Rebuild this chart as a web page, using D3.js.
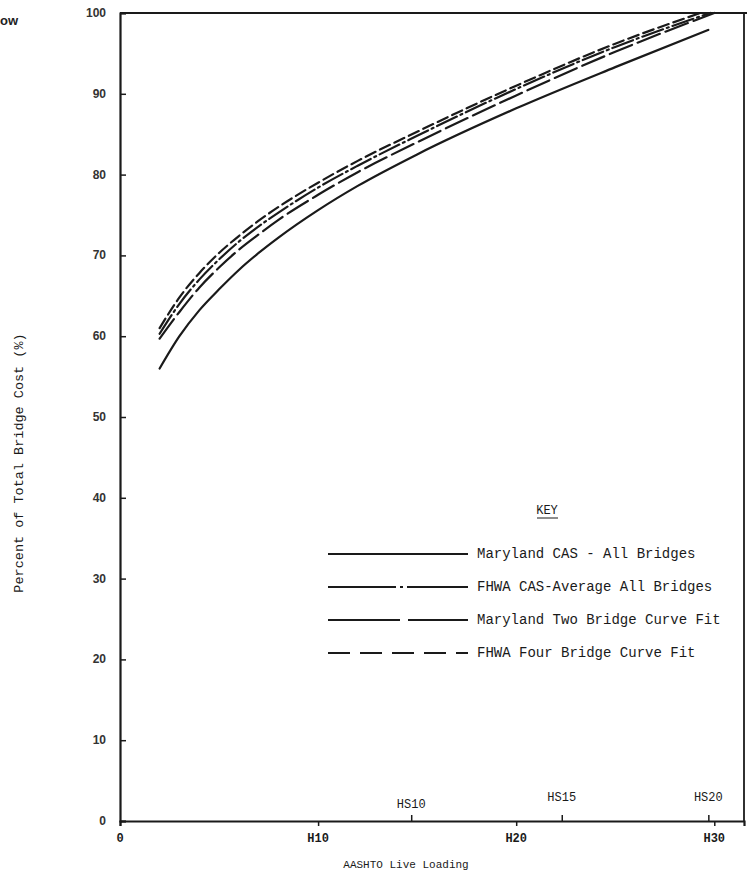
<!DOCTYPE html>
<html><head><meta charset="utf-8">
<script src="https://cdn.jsdelivr.net/npm/d3@7"></script>
<style>body{margin:0;background:#fff}svg{display:block}</style>
</head><body>
<svg id="c" width="747" height="873"></svg>
<script>
// ---- data ----
const xCAS   = [2, 3, 4, 5, 6, 7, 8, 10, 12, 15, 20, 25, 29.7];
const yMdCAS = [56, 60, 63.2, 65.8, 68.2, 70.3, 72.2, 75.6, 78.6, 82.5, 88.2, 93.3, 97.9];
const xFhwaCAS = [2, 3, 4, 5, 6, 7, 8, 10, 12, 15, 20, 25, 29.8];
const yFhwaCAS = [60.3, 64, 67, 69.5, 71.7, 73.6, 75.3, 78.4, 81.1, 84.8, 90.6, 95.8, 100];
const xMdTwo = [2, 3, 4, 5, 6, 7, 8, 10, 12, 15, 20, 25, 30];
const yMdTwo = [59.7, 63, 66, 68.5, 70.7, 72.6, 74.4, 77.5, 80.3, 84, 89.8, 95.2, 100];
const xFhwaFour = [2, 3, 4, 5, 6, 7, 8, 10, 12, 15, 20, 25, 29.3];
const yFhwaFour = [61, 64.8, 67.8, 70.3, 72.4, 74.3, 76, 79, 81.7, 85.3, 91, 96.2, 100];

const seriesNames = ["Maryland CAS - All Bridges", "FHWA CAS-Average All Bridges",
                     "Maryland Two Bridge Curve Fit", "FHWA Four Bridge Curve Fit"];
const yTicks = [0, 10, 20, 30, 40, 50, 60, 70, 80, 90, 100];
const xTickVals = [0, 10, 20, 30];
const xTickLabels = ["0", "H10", "H20", "H30"];
const hsTickVals = [14.7, 22.3, 29.7];
const hsTickLabels = ["HS10", "HS15", "HS20"];

// ---- layout ----
const svg = d3.select("#c");
const x = d3.scaleLinear().domain([0, 31.5]).range([120, 744]);
const y = d3.scaleLinear().domain([0, 100]).range([821, 13]);
const ink = "#1a1a1a";
const mono = "'Liberation Mono','DejaVu Sans Mono',monospace";

const series = [
  {xs: xCAS, ys: yMdCAS, dash: null, legDash: null},
  {xs: xFhwaCAS, ys: yFhwaCAS, dash: "22,4,2,4", legDash: "68,4,3,4"},
  {xs: xMdTwo, ys: yMdTwo, dash: "24,6", legDash: "72,8"},
  {xs: xFhwaFour, ys: yFhwaFour, dash: "11,5", legDash: "22,10"}
];

// frame
svg.append("path").attr("d", `M${x(0)},${y(100)}H747`).attr("stroke", ink).attr("stroke-width", 2.2).attr("fill", "none");
svg.append("path").attr("d", `M${x.range()[1]},${y(100)}V${y(0)}`).attr("stroke", ink).attr("stroke-width", 1.8).attr("fill", "none");

// y axis
const yAxis = d3.axisRight(y).tickValues(yTicks).tickSize(6).tickFormat("");
const gy = svg.append("g").attr("transform", `translate(${x(0)},0)`).call(yAxis);
gy.select(".domain").attr("stroke", ink).attr("stroke-width", 2.2);
gy.selectAll(".tick line").attr("stroke", ink).attr("stroke-width", 1.5);
svg.append("g").selectAll("text").data(yTicks).join("text")
  .attr("x", 106).attr("y", d => y(d) + 4)
  .attr("text-anchor", "end")
  .attr("font-family", "'Liberation Sans',Arial,sans-serif").attr("font-weight", "bold")
  .attr("font-size", 12).attr("fill", "#333")
  .text(d => d);

// x axis
const xAxis = d3.axisBottom(x).tickValues(xTickVals).tickSize(5).tickFormat("");
const gx = svg.append("g").attr("transform", `translate(0,${y(0)})`).call(xAxis);
gx.select(".domain").attr("stroke", ink).attr("stroke-width", 2.2);
gx.selectAll(".tick line").attr("stroke", ink).attr("stroke-width", 1.5);
svg.append("g").selectAll("text").data(xTickVals).join("text")
  .attr("x", d => x(d)).attr("y", 842).attr("text-anchor", "middle")
  .attr("font-family", mono).attr("font-weight", "bold").attr("font-size", 12).attr("fill", ink)
  .text((d, i) => xTickLabels[i]);

// HS ticks above axis
const hsAxis = d3.axisTop(x).tickValues(hsTickVals).tickSize(6).tickFormat("");
const ghs = svg.append("g").attr("transform", `translate(0,${y(0)})`).call(hsAxis);
ghs.select(".domain").remove();
ghs.selectAll(".tick line").attr("stroke", ink).attr("stroke-width", 1.5);
const hsY = [808, 801, 801];
svg.append("g").selectAll("text").data(hsTickVals).join("text")
  .attr("x", d => x(d)).attr("y", (d, i) => hsY[i]).attr("text-anchor", "middle")
  .attr("font-family", mono).attr("font-size", 12).attr("fill", ink)
  .text((d, i) => hsTickLabels[i]);

// axis titles
svg.append("text").attr("x", 406).attr("y", 868).attr("text-anchor", "middle")
  .attr("font-family", mono).attr("font-size", 11).attr("fill", ink).text("AASHTO Live Loading");
svg.append("text").attr("transform", "translate(23,463) rotate(-90)").attr("text-anchor", "middle")
  .attr("font-family", mono).attr("font-size", 13.5).attr("fill", ink).text("Percent of Total Bridge Cost (%)");
svg.append("text").attr("x", 0).attr("y", 25)
  .attr("font-family", "'Liberation Sans',Arial,sans-serif").attr("font-weight", "bold")
  .attr("font-size", 13).attr("fill", "#222").text("ow");

// curves
const line = d3.line().x(d => x(d[0])).y(d => y(d[1])).curve(d3.curveMonotoneX);
series.forEach(s => {
  const pts = s.xs.map((v, i) => [v, s.ys[i]]);
  svg.append("path").datum(pts).attr("d", line)
    .attr("fill", "none").attr("stroke", ink).attr("stroke-width", 2.2)
    .attr("stroke-linecap", "round")
    .attr("stroke-dasharray", s.dash);
});

// legend
svg.append("text").attr("x", 547).attr("y", 514).attr("text-anchor", "middle")
  .attr("font-family", mono).attr("font-size", 12).attr("fill", ink).text("KEY");
svg.append("line").attr("x1", 537).attr("x2", 558).attr("y1", 518).attr("y2", 518).attr("stroke", ink).attr("stroke-width", 1);
const legY = [554, 587, 620, 653];
series.forEach((s, i) => {
  svg.append("line").attr("x1", 328).attr("x2", 468).attr("y1", legY[i]).attr("y2", legY[i])
    .attr("stroke", ink).attr("stroke-width", 2).attr("stroke-dasharray", s.legDash);
  svg.append("text").attr("x", 477).attr("y", legY[i] + 4)
    .attr("font-family", mono).attr("font-size", 14).attr("fill", ink).text(seriesNames[i]);
});
</script>
</body></html>
